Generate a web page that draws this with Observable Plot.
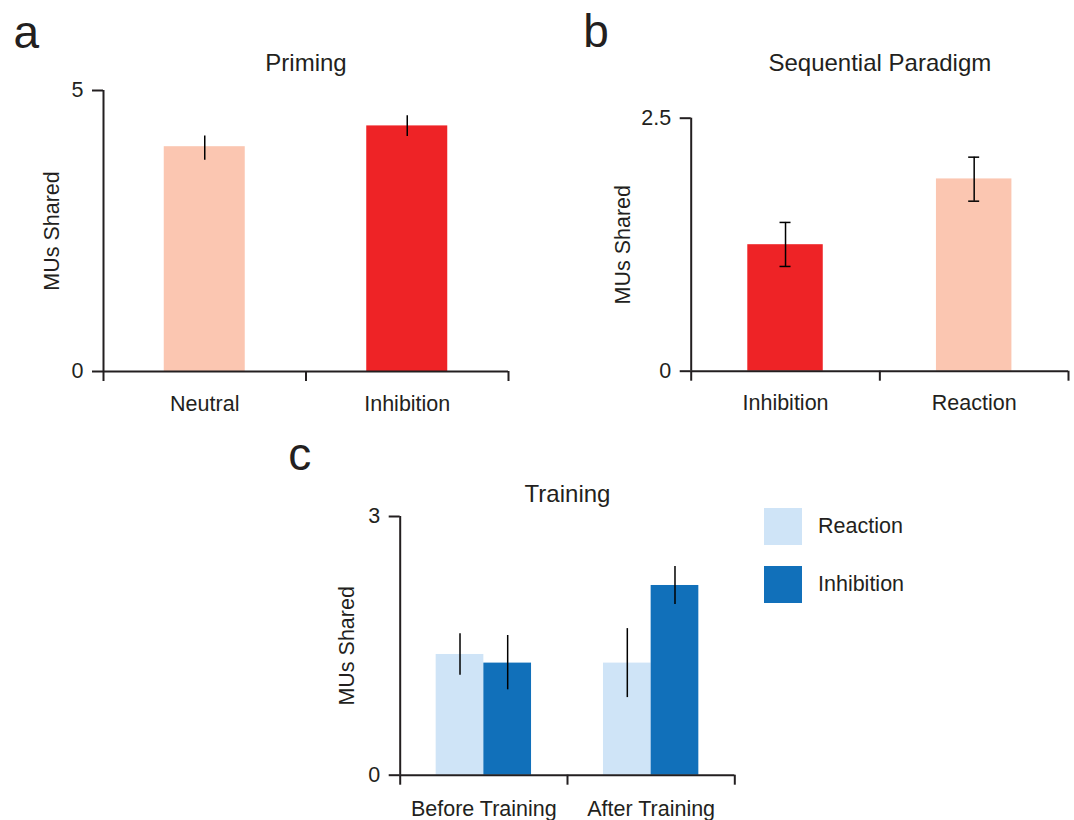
<!DOCTYPE html>
<html><head><meta charset="utf-8">
<script src="https://cdn.jsdelivr.net/npm/d3@7"></script>
<script src="https://cdn.jsdelivr.net/npm/@observablehq/plot@0.6"></script>
<style>
body{margin:0;background:#fff;}
#root{position:relative;width:1074px;height:820px;overflow:hidden;font-family:"Liberation Sans",Arial,sans-serif;color:#231f20;}
#root > *{position:absolute;}
.sw{width:38px;height:37px;}
.lg{font-size:21.5px;line-height:22px;white-space:nowrap;}
</style></head><body><div id="root"></div>
<script>
// ---- data ----
const yLabel = "MUs Shared";

const primingTitle = "Priming";
const primingCats = ["Neutral", "Inhibition"];
const primingMeans = [4.00, 4.37];
const primingLow = [3.76, 4.18];
const primingHigh = [4.19, 4.55];
const primingTicks = [0, 5];

const seqTitle = "Sequential Paradigm";
const seqCats = ["Inhibition", "Reaction"];
const seqMeans = [1.25, 1.90];
const seqLow = [1.035, 1.68];
const seqHigh = [1.47, 2.115];
const seqTicks = [0, 2.5];

const trainTitle = "Training";
const trainGroups = ["Before Training", "After Training"];
const trainSeries = ["Reaction", "Inhibition"];
const trainReaction = [1.40, 1.30];
const trainReactionLow = [1.16, 0.90];
const trainReactionHigh = [1.64, 1.70];
const trainInhibition = [1.30, 2.20];
const trainInhibitionLow = [0.99, 1.98];
const trainInhibitionHigh = [1.62, 2.42];
const trainTicks = [0, 3];

// ---- styles ----
const INK = "#231f20";
const FONT = '"Liberation Sans",Arial,sans-serif';
const SALMON = "#fbc6b1", RED = "#ee2326", LIGHTBLUE = "#cfe4f7", BLUE = "#1170ba";
const primingColors = [SALMON, RED];
const seqColors = [RED, SALMON];
const trainColors = [LIGHTBLUE, BLUE];
const FS = 21.5;

const root = document.getElementById("root");
function place(el, left, top) { el.style.left = left + "px"; el.style.top = top + "px"; root.appendChild(el); }

function frameMarks(cats, ticks, labelPad, opts) {
  const n = cats.length;
  return [
    Plot.axisY({ticks, tickSize: 11, tickPadding: 9, tickFormat: d => String(d), stroke: INK, strokeWidth: 2, fill: INK, fontSize: FS, label: null}),
    Plot.axisX({ticks: d3.range(n + 1), tickSize: 10, tickFormat: () => "", stroke: INK, strokeWidth: 2, label: null}),
    Plot.axisX({ticks: d3.range(n).map(i => i + 0.5), tickSize: 0, tickPadding: labelPad, tickFormat: d => cats[Math.floor(d)], fill: INK, fontSize: FS, label: null}),
    Plot.ruleX([0], {y1: ticks[0], y2: ticks[ticks.length - 1], stroke: INK, strokeWidth: 2}),
    Plot.ruleY([0], {stroke: INK, strokeWidth: 2}),
    Plot.text([opts.title], {frameAnchor: "top", textAnchor: "middle", lineAnchor: "middle", dy: opts.titleDy, fontSize: 24, fill: INK}),
    Plot.text([yLabel], {frameAnchor: "left", textAnchor: "middle", lineAnchor: "middle", dx: opts.yLabelDx, rotate: -90, fontSize: FS, fill: INK}),
    Plot.text([opts.letter], {frameAnchor: "top-left", textAnchor: "start", lineAnchor: "middle", dx: opts.letterDx, dy: opts.letterDy, fontSize: 46, fill: INK})
  ];
}

// ---- panel a ----
const rowsA = primingCats.map((c, i) => ({i, v: primingMeans[i], lo: primingLow[i], hi: primingHigh[i], color: primingColors[i]}));
const plotA = Plot.plot({
  width: 540, height: 430, marginLeft: 103, marginRight: 32, marginTop: 90, marginBottom: 59,
  x: {domain: [0, primingCats.length]}, y: {domain: [primingTicks[0], primingTicks[1]]},
  style: {fontFamily: FONT, color: INK, background: "transparent", overflow: "visible"},
  marks: [
    Plot.rect(rowsA, {x1: d => d.i + 0.3, x2: d => d.i + 0.7, y1: 0, y2: "v", fill: "color"}),
    Plot.ruleX(rowsA, {x: d => d.i + 0.5, y1: "lo", y2: "hi", stroke: "#000", strokeWidth: 1.5}),
    ...frameMarks(primingCats, primingTicks, 24, {title: primingTitle, titleDy: -26.7, yLabelDx: -51, letter: "a", letterDx: -90, letterDy: -57.7})
  ]
});
place(plotA, 0, 0);

// ---- panel b ----
const rowsB = seqCats.map((c, i) => ({i, v: seqMeans[i], lo: seqLow[i], hi: seqHigh[i], color: seqColors[i]}));
const plotB = Plot.plot({
  width: 534, height: 430, marginLeft: 150.7, marginRight: 6, marginTop: 117.7, marginBottom: 59.3,
  x: {domain: [0, seqCats.length]}, y: {domain: [seqTicks[0], seqTicks[1]]},
  style: {fontFamily: FONT, color: INK, background: "transparent", overflow: "visible"},
  marks: [
    Plot.rect(rowsB, {x1: d => d.i + 0.3, x2: d => d.i + 0.7, y1: 0, y2: "v", fill: "color"}),
    Plot.ruleX(rowsB, {x: d => d.i + 0.5, y1: "lo", y2: "hi", stroke: "#000", strokeWidth: 1.5}),
    Plot.ruleY(rowsB, {x1: d => d.i + 0.5, x2: d => d.i + 0.5, y: "hi", insetLeft: -5.5, insetRight: -5.5, stroke: "#000", strokeWidth: 1.5}),
    Plot.ruleY(rowsB, {x1: d => d.i + 0.5, x2: d => d.i + 0.5, y: "lo", insetLeft: -5.5, insetRight: -5.5, stroke: "#000", strokeWidth: 1.5}),
    ...frameMarks(seqCats, seqTicks, 24, {title: seqTitle, titleDy: -54.4, yLabelDx: -68, letter: "b", letterDx: -108, letterDy: -85.7})
  ]
});
place(plotB, 540, 0);

// ---- panel c ----
const rowsC = [];
trainGroups.forEach((g, gi) => {
  rowsC.push({gi, s: 0, v: trainReaction[gi], lo: trainReactionLow[gi], hi: trainReactionHigh[gi], color: trainColors[0]});
  rowsC.push({gi, s: 1, v: trainInhibition[gi], lo: trainInhibitionLow[gi], hi: trainInhibitionHigh[gi], color: trainColors[1]});
});
const BW = 0.285;
const plotC = Plot.plot({
  width: 460, height: 390, marginLeft: 119.7, marginRight: 5.7, marginTop: 86, marginBottom: 45.3,
  x: {domain: [0, trainGroups.length]}, y: {domain: [trainTicks[0], trainTicks[1]]},
  style: {fontFamily: FONT, color: INK, background: "transparent", overflow: "visible"},
  marks: [
    Plot.rect(rowsC, {x1: d => d.gi + 0.5 + (d.s - 1) * BW, x2: d => d.gi + 0.5 + d.s * BW, y1: 0, y2: "v", fill: "color"}),
    Plot.ruleX(rowsC, {x: d => d.gi + 0.5 + (d.s - 0.5) * BW, y1: "lo", y2: "hi", stroke: "#000", strokeWidth: 1.5}),
    ...frameMarks(trainGroups, trainTicks, 25.5, {title: trainTitle, titleDy: -22, yLabelDx: -53, letter: "c", letterDx: -112, letterDy: -61.7})
  ]
});
place(plotC, 280, 430);

// ---- legend for panel c ----
trainSeries.forEach((s, i) => {
  const sw = document.createElement("div");
  sw.className = "sw"; sw.style.background = trainColors[i];
  place(sw, 764, 508 + i * 58);
  const lb = document.createElement("div");
  lb.className = "lg"; lb.textContent = s;
  place(lb, 818, 515 + i * 58);
});
</script>
</body></html>
